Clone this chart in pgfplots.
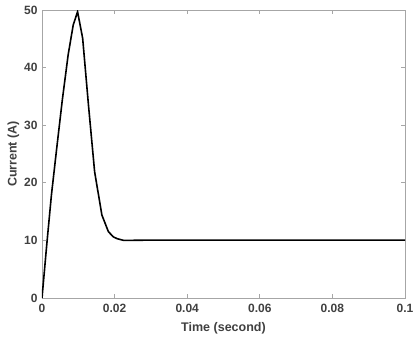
\documentclass[border=0pt]{standalone}
\usepackage{pgfplots}
\pgfplotsset{compat=1.18}
\usepackage{fontspec}
\setmainfont{Liberation Sans}
\definecolor{axgray}{HTML}{A6A6A6}
\definecolor{txtgray}{HTML}{404040}
\begin{document}
\begin{tikzpicture}
\useasboundingbox (-42pt,-48pt) rectangle (375pt,298pt);
\begin{axis}[
  scale only axis,
  width=363pt, height=288pt,
  xmin=0, xmax=0.1, ymin=0, ymax=50,
  xtick={0,0.02,0.04,0.06,0.08,0.1},
  xticklabels={0,0.02,0.04,0.06,0.08,0.1},
  ytick={0,10,20,30,40,50},
  yticklabels={0,10,20,30,40,50},
  tick align=inside,
  major tick length=4pt,
  axis line style={axgray, line width=0.8pt},
  every tick/.style={axgray, line width=0.8pt},
  tick label style={font=\fontsize{12}{14}\selectfont\bfseries, text=txtgray},
  label style={font=\fontsize{12.5}{14}\selectfont\bfseries, text=txtgray},
  xlabel={Time (second)},
  ylabel={Current (A)},
  xticklabel style={yshift=-3pt},
  yticklabel style={xshift=-1pt},
  xlabel style={yshift=-3pt},
  ylabel style={yshift=-2pt},
]
\addplot[black, line width=1.6pt] coordinates {
(0,0) (0.0013,9.2) (0.0026,17.9) (0.0040,25.7) (0.0056,34.4) (0.0072,42.2)
(0.0086,47.4) (0.0098,49.7) (0.0112,45.1) (0.0128,33.5) (0.0145,21.9)
(0.0165,14.4) (0.0183,11.5) (0.0197,10.6) (0.0207,10.3) (0.0225,10.0)
(0.03,10.05) (0.1,10.05)
};
\end{axis}
\end{tikzpicture}
\end{document}
